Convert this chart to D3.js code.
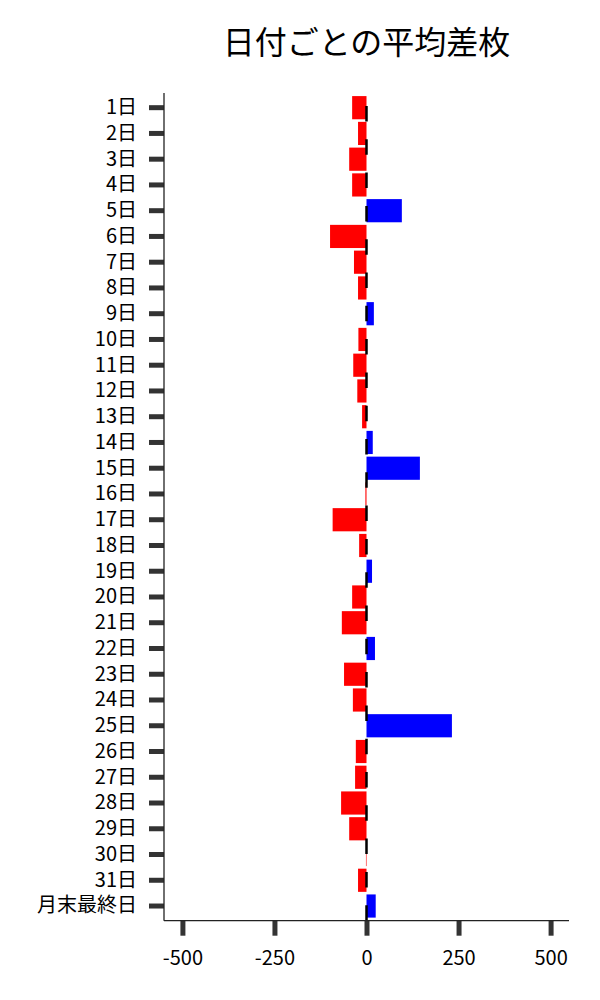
<!DOCTYPE html>
<html>
<head>
<meta charset="utf-8">
<script src="https://cdn.jsdelivr.net/npm/d3@7"></script>
<style>
  body { margin: 0; background: #fff; }
  svg text { font-family: "Noto Sans CJK JP", "Noto Sans", sans-serif; fill: #000; }
</style>
</head>
<body>
<div id="chart"></div>
<script>
// categories and values
const days = ["1日","2日","3日","4日","5日","6日","7日","8日","9日","10日",
  "11日","12日","13日","14日","15日","16日","17日","18日","19日","20日",
  "21日","22日","23日","24日","25日","26日","27日","28日","29日","30日",
  "31日","月末最終日"];
const avgDiff = [-39, -23, -47, -39, 96, -99, -34, -23, 20, -22,
  -36, -25, -12, 17, 145, -3, -92, -20, 15, -39,
  -67, 23, -61, -37, 232, -29, -31, -69, -47, -1.5,
  -23, 25];
const xTicks = [-500, -250, 0, 250, 500];
const xDomain = [-550, 550];

const width = 600, height = 1000;
const plot = { left: 164, right: 569, top: 93, bottom: 920.7 };

const svg = d3.select("#chart").append("svg")
  .attr("width", width)
  .attr("height", height);

const data = days.map((d, i) => ({ day: d, value: avgDiff[i] }));

const x = d3.scaleLinear().domain(xDomain).range([plot.left, plot.right]);
const y = d3.scaleBand()
  .domain(days)
  .range([plot.top, plot.bottom])
  .paddingInner(0.1)
  .paddingOuter(0.12);

// title
svg.append("text")
  .attr("x", (plot.left + plot.right) / 2)
  .attr("y", 54)
  .attr("text-anchor", "middle")
  .style("font-size", "32px")
  .text("日付ごとの平均差枚");

// bars
svg.append("g")
  .selectAll("rect")
  .data(data)
  .enter()
  .append("rect")
  .attr("x", (d) => x(Math.min(0, d.value)))
  .attr("y", (d) => y(d.day))
  .attr("width", (d) => Math.abs(x(d.value) - x(0)))
  .attr("height", y.bandwidth())
  .attr("fill", (d) => (d.value >= 0 ? "#0000ff" : "#ff0000"));

// dashed zero line, drawn from the bottom up
svg.append("line")
  .attr("x1", x(0))
  .attr("x2", x(0))
  .attr("y1", plot.bottom)
  .attr("y2", plot.top)
  .attr("stroke", "#000")
  .attr("stroke-width", 2.5)
  .attr("stroke-dasharray", "15.5,17.8");

// y axis
const yAxis = svg.append("g")
  .attr("transform", `translate(${plot.left},0)`)
  .call(d3.axisLeft(y).tickSize(15).tickPadding(12));
yAxis.select(".domain").remove();
yAxis.selectAll(".tick line").attr("stroke", "#333").attr("stroke-width", 5);
yAxis.selectAll(".tick text").style("font-size", "20px");

// x axis (plain hyphen for negatives, like the original)
const xAxis = svg.append("g")
  .attr("transform", `translate(0,${plot.bottom})`)
  .call(d3.axisBottom(x).tickValues(xTicks).tickFormat((d) => String(d))
    .tickSize(15).tickPadding(15));
xAxis.select(".domain").remove();
xAxis.selectAll(".tick line").attr("stroke", "#333").attr("stroke-width", 5);
xAxis.selectAll(".tick text").style("font-size", "20px");

// spines
svg.append("line")
  .attr("x1", plot.left).attr("x2", plot.left)
  .attr("y1", plot.top).attr("y2", plot.bottom)
  .attr("stroke", "#222").attr("stroke-width", 1.3);
svg.append("line")
  .attr("x1", plot.left).attr("x2", plot.right)
  .attr("y1", plot.bottom).attr("y2", plot.bottom)
  .attr("stroke", "#222").attr("stroke-width", 1.3);
</script>
</body>
</html>
